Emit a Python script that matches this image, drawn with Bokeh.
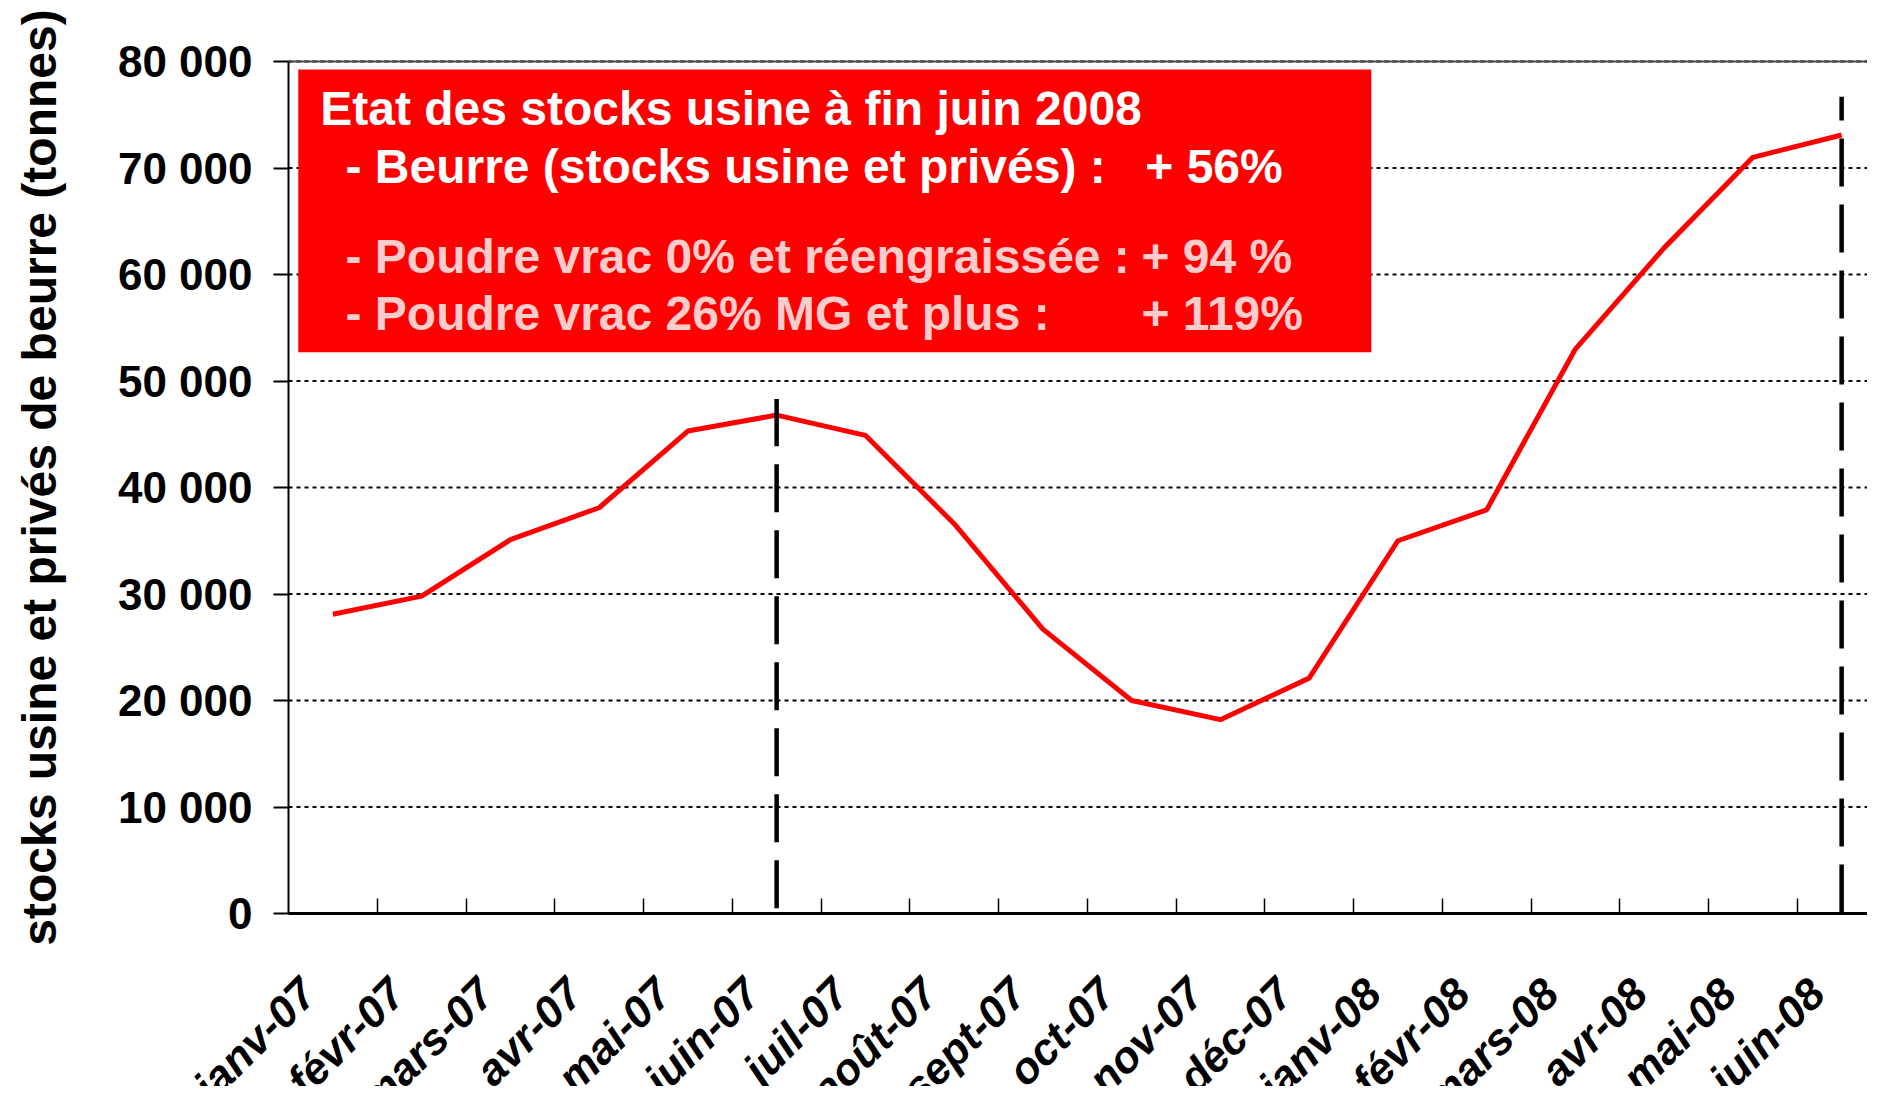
from math import pi
from bokeh.plotting import figure
from bokeh.models import (Range1d, FixedTicker, CustomJSTickFormatter, BoxAnnotation,
                          Label)
from bokeh.embed import file_html
from bokeh.resources import INLINE

# ---------------- data ----------------
MONTHS = ["janv-07", "févr-07", "mars-07", "avr-07", "mai-07", "juin-07",
          "juil-07", "août-07", "sept-07", "oct-07", "nov-07", "déc-07",
          "janv-08", "févr-08", "mars-08", "avr-08", "mai-08", "juin-08"]
STOCKS = [28100, 29800, 35100, 38100, 45300, 46800,
          44900, 36600, 26700, 20000, 18200, 22100,
          35000, 37900, 53000, 62500, 71000, 73100]
Y_TICKS = [0, 10000, 20000, 30000, 40000, 50000, 60000, 70000, 80000]
Y_TICK_LABELS = ["0", "10 000", "20 000", "30 000", "40 000", "50 000",
                 "60 000", "70 000", "80 000"]
DASH_MONTHS = ["juin-07", "juin-08"]
DASH_BOTTOMS = [500, 100]
DASH_TOPS = [48300, 76700]
Y_TITLE = "stocks usine et privés de beurre (tonnes)"
BOX_TITLE = "Etat des stocks usine à fin juin 2008"
BOX_ITEMS = ["- Beurre (stocks usine et privés) :",
             "- Poudre vrac 0% et réengraissée :",
             "- Poudre vrac 26% MG et plus :"]
BOX_VALUES = ["+ 56%", "+ 94 %", "+ 119%"]

FONT = "Liberation Sans"
N = len(MONTHS)
xs = [i + 0.5 for i in range(N)]

# The frame covers the whole canvas; the axes are pinned at x=0 / y=0 so that the
# slanted month names and the value labels can sit freely around the chart area.
p = figure(width=1867, height=1086, output_backend="svg", toolbar_location=None,
           x_range=Range1d(-3.2451, 17.7915), y_range=Range1d(-16244.1, 85727.7),
           y_axis_location="right",
           min_border_left=0, min_border_right=0, min_border_top=0,
           min_border_bottom=0)
p.outline_line_color = None
p.background_fill_color = "white"
p.border_fill_color = "white"
p.xgrid.grid_line_color = None
p.ygrid.grid_line_color = None

# horizontal dotted grid lines across the month area
p.segment(x0=[0] * len(Y_TICKS), y0=Y_TICKS, x1=[N] * len(Y_TICKS), y1=Y_TICKS,
          line_color="black", line_width=2, line_dash="4 4")
p.segment(x0=[0], y0=[Y_TICKS[-1]], x1=[N], y1=[Y_TICKS[-1]],
          line_color="#444444", line_width=2)

# y axis pinned at x = 0, ticks pointing left
ya = p.yaxis[0]
ya.fixed_location = 0
ya.bounds = (Y_TICKS[0], Y_TICKS[-1])
ya.ticker = FixedTicker(ticks=Y_TICKS)
ya.formatter = CustomJSTickFormatter(code="return '';")
ya.major_label_text_font_size = "1px"
ya.major_label_standoff = 0
ya.axis_line_width = 2
ya.axis_line_color = "black"
ya.major_tick_in = 15
ya.major_tick_out = 0
ya.major_tick_line_width = 2
ya.major_tick_line_color = "black"
ya.minor_tick_line_color = None

for t, s in zip(Y_TICKS, Y_TICK_LABELS):
    p.add_layout(Label(x=0, y=t, x_offset=-36, text=s, text_font=FONT,
                       text_font_style="bold", text_font_size="44px",
                       text_color="black", text_align="right", text_baseline="middle"))

p.add_layout(Label(x=-2.81, y=40939, text=Y_TITLE, angle=pi / 2, text_font=FONT,
                   text_font_style="bold", text_font_size="48px", text_color="black",
                   text_align="center", text_baseline="middle"))

# x axis pinned at y = 0, ticks at month boundaries pointing up
xa = p.xaxis[0]
xa.fixed_location = 0
xa.bounds = (0, N)
xa.ticker = FixedTicker(ticks=xs, minor_ticks=list(range(1, N)))
xa.formatter = CustomJSTickFormatter(code="return '';")
xa.major_label_text_font_size = "1px"
xa.major_label_standoff = 0
xa.axis_line_width = 3
xa.axis_line_color = "black"
xa.major_tick_line_color = None
xa.minor_tick_in = 15
xa.minor_tick_out = 0
xa.minor_tick_line_width = 1.5
xa.minor_tick_line_color = "black"

# month names, slanted, under each month
for xm, m in zip(xs, MONTHS):
    p.add_layout(Label(x=xm, y=0, x_offset=-42, y_offset=-55, text=m, angle=pi / 4,
                       text_font=FONT, text_font_style="bold italic",
                       text_font_size="44px", text_color="black",
                       text_align="right", text_baseline="top"))

# data line
p.line(xs, STOCKS, line_color="#FF0000", line_width=5)

# dashed markers
for m, b, t in zip(DASH_MONTHS, DASH_BOTTOMS, DASH_TOPS):
    xm = MONTHS.index(m) + 0.5
    p.line([xm, xm], [b, t], line_color="black", line_width=4.5, line_dash="48 18")

# info box
p.add_layout(BoxAnnotation(left=0.11, right=12.2, top=79250, bottom=52700,
                           fill_color="#FF0000", fill_alpha=1.0, line_color=None,
                           level="annotation"))

def lab(x, y, text, color):
    p.add_layout(Label(x=x, y=y, text=text, text_font=FONT, text_font_style="bold",
                       text_font_size="48px", text_color=color,
                       text_baseline="alphabetic", text_align="left"))

lab(0.357, 75545, BOX_TITLE, "white")
item_y = [70135, 61685, 56365]
val_x = [9.654, 9.611, 9.611]
colors = ["white", "#FFCCCC", "#FFCCCC"]
for txt, val, yy, vx, c in zip(BOX_ITEMS, BOX_VALUES, item_y, val_x, colors):
    lab(0.642, yy, txt, c)
    lab(vx, yy, val, c)

open("out.html", "w").write(file_html(p, INLINE))
